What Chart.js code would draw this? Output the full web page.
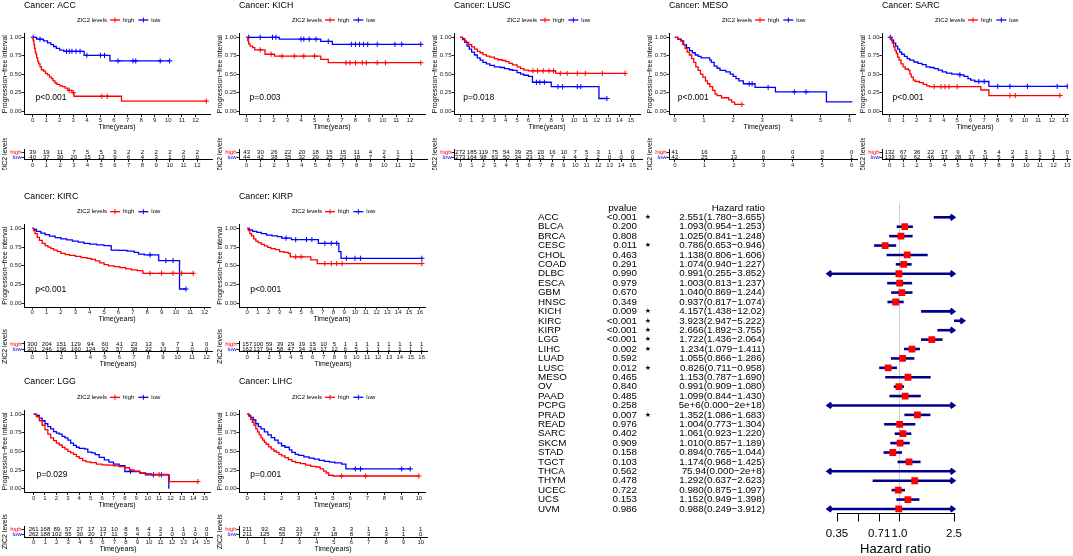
<!DOCTYPE html>
<html>
<head>
<meta charset="utf-8">
<script src="https://cdn.jsdelivr.net/npm/chart.js@4.4.0/dist/chart.umd.min.js"></script>
<style>
  body { margin: 0; background: #fff; width: 1073px; height: 556px; position: relative; overflow: hidden; }
  .box { position: absolute; overflow: hidden; }
</style>
</head>
<body>
<script>
// ---- Kaplan-Meier curves: [time, survival, censored?] ----
const accHigh = [[0,1],[0.05,0.95],[0.1,0.9],[0.15,0.85],[0.2,0.8],[0.25,0.77],[0.3,0.72],[0.38,0.67],[0.45,0.64],[0.55,0.6],[0.65,0.56],[0.8,0.54],[0.95,0.51],[1.1,0.49],[1.25,0.46],[1.4,0.44],[1.5,0.41],[1.65,0.38],[1.8,0.36],[2.0,0.34],[2.2,0.33],[2.4,0.31],[2.6,0.28],[2.7,0.28,1],[2.9,0.25],[3.0,0.25,1],[3.05,0.2],[5.1,0.2,1],[5.5,0.2,1],[6.55,0.135],[12.8,0.135,1]];
const accLow = [[0,1],[0.05,1,1],[0.3,0.975],[0.55,0.975,1],[0.8,0.95],[1.1,0.925],[1.35,0.9],[1.55,0.875],[1.75,0.85],[2.0,0.825],[2.3,0.81],[2.5,0.81,1],[2.7,0.81,1],[2.9,0.81,1],[3.2,0.81,1],[3.5,0.81,1],[3.8,0.755],[4.0,0.755,1],[5.0,0.755,1],[5.3,0.755,1],[5.7,0.68],[6.3,0.68,1],[7.4,0.68,1],[7.6,0.68,1],[9.4,0.68,1],[10.1,0.68,1]];
const kichHigh = [[0,1],[0.08,0.95],[0.15,0.91],[0.25,0.88],[0.45,0.86],[0.6,0.83],[1.0,0.83,1],[1.35,0.77],[1.8,0.77,1],[2.05,0.745],[2.6,0.745,1],[3.5,0.745,1],[4.2,0.745,1],[5.0,0.745,1],[5.45,0.7],[6.0,0.655],[7.3,0.655,1],[7.6,0.655,1],[8.0,0.655,1],[8.5,0.655,1],[8.8,0.655,1],[9.6,0.655,1],[10.2,0.655,1],[12.8,0.655,1]];
const kichLow = [[0,1],[0.15,1,1],[1.0,1,1],[1.9,1,1],[2.15,1,1],[2.4,0.975],[4.0,0.975,1],[4.2,0.975,1],[4.6,0.975,1],[5.1,0.975,1],[5.45,0.945],[6.0,0.945,1],[6.3,0.905],[7.7,0.905,1],[8.0,0.905,1],[8.3,0.905,1],[8.6,0.905,1],[8.9,0.905,1],[9.6,0.905,1],[10.9,0.905,1],[11.4,0.905,1],[12.8,0.905,1]];
const luscHigh = [[0,1],[0.2,0.98],[0.4,0.95],[0.55,0.93],[0.75,0.9],[1.0,0.87],[1.25,0.84],[1.5,0.81],[1.75,0.79],[2.0,0.765],[2.3,0.745],[2.6,0.73],[3.0,0.71],[3.3,0.695],[3.7,0.685],[4.0,0.67],[4.3,0.645],[4.6,0.625],[5.0,0.6],[5.3,0.575],[5.6,0.555],[6.0,0.545],[6.4,0.545,1],[6.8,0.545,1],[7.3,0.545,1],[7.8,0.545,1],[8.2,0.545,1],[8.4,0.51],[8.8,0.51,1],[9.4,0.51,1],[10.3,0.51,1],[11.0,0.51,1],[12.5,0.51,1],[14.5,0.51,1]];
const luscLow = [[0,1],[0.2,0.97],[0.4,0.93],[0.6,0.88],[0.8,0.84],[1.0,0.8],[1.25,0.76],[1.5,0.72],[1.75,0.69],[2.0,0.66],[2.3,0.64],[2.6,0.62],[3.0,0.6],[3.5,0.59],[3.9,0.575],[4.3,0.56],[4.6,0.55],[5.0,0.52],[5.3,0.5],[5.6,0.485],[6.0,0.47],[6.35,0.39],[6.7,0.39,1],[7.0,0.39,1],[7.4,0.39,1],[8.0,0.33],[8.6,0.33,1],[9.0,0.33,1],[10.3,0.33,1],[10.6,0.33,1],[12.2,0.17],[12.9,0.17,1]];
const mesoHigh = [[0,1],[0.1,0.975],[0.2,0.95],[0.27,0.9],[0.35,0.85],[0.42,0.8],[0.5,0.76],[0.58,0.71],[0.65,0.66],[0.72,0.6],[0.8,0.55],[0.88,0.5],[0.96,0.46],[1.05,0.41],[1.12,0.37],[1.2,0.33],[1.3,0.28],[1.38,0.23],[1.45,0.21],[1.6,0.18],[1.85,0.15],[1.95,0.12],[2.05,0.09],[2.3,0.09,1]];
const mesoLow = [[0,1],[0.1,0.975],[0.22,0.95],[0.3,0.9],[0.4,0.86],[0.5,0.82],[0.6,0.79],[0.7,0.76],[0.8,0.74],[0.9,0.72],[1.2,0.69],[1.25,0.66],[1.35,0.61],[1.45,0.58],[1.55,0.55],[1.75,0.53],[1.9,0.5],[2.0,0.47],[2.1,0.44],[2.2,0.41],[2.35,0.37],[2.55,0.37,1],[2.65,0.37,1],[2.75,0.32],[3.2,0.32,1],[3.45,0.26],[4.1,0.26,1],[4.5,0.26,1],[5.2,0.125],[6.09,0.125]];
const sarcHigh = [[0,1],[0.1,0.97],[0.2,0.92],[0.3,0.87],[0.4,0.82],[0.5,0.78],[0.6,0.73],[0.7,0.69],[0.85,0.64],[1.0,0.6],[1.15,0.57],[1.4,0.55],[1.5,0.5],[1.6,0.46],[1.75,0.42],[1.9,0.4],[2.2,0.385],[2.5,0.36],[2.75,0.34],[2.95,0.33],[3.3,0.33,1],[3.8,0.33,1],[4.1,0.33,1],[4.4,0.33,1],[5.0,0.33,1],[6.75,0.285],[7.35,0.21],[8.9,0.21,1],[9.3,0.21,1],[12.6,0.21,1]];
const sarcLow = [[0,1],[0.05,1,1],[0.15,0.96],[0.3,0.92],[0.45,0.88],[0.6,0.84],[0.75,0.8],[0.9,0.77],[1.1,0.74],[1.3,0.71],[1.5,0.69],[1.8,0.665],[2.1,0.645],[2.4,0.63],[2.7,0.6],[3.0,0.59],[3.3,0.575],[3.6,0.555],[3.9,0.53],[4.2,0.515],[4.6,0.5],[5.2,0.49,1],[5.5,0.47],[5.8,0.44],[6.0,0.42],[6.3,0.4],[6.6,0.4,1],[7.0,0.4,1],[7.35,0.335],[8.0,0.335,1],[8.9,0.335,1],[10.2,0.335,1],[12.4,0.335,1],[13.15,0.335,1]];
const kircHigh = [[0,1],[0.1,0.97],[0.2,0.93],[0.35,0.88],[0.5,0.84],[0.7,0.8],[0.9,0.77],[1.1,0.75],[1.3,0.73],[1.5,0.71],[1.75,0.69],[2.0,0.665],[2.3,0.65],[2.6,0.64],[3.0,0.625],[3.4,0.61],[3.8,0.6],[4.1,0.585],[4.4,0.565],[4.7,0.54],[5.0,0.515],[5.3,0.5],[5.7,0.49],[6.1,0.475],[6.5,0.46],[6.9,0.445],[7.3,0.435],[7.7,0.4],[8.2,0.4,1],[9.0,0.4,1],[9.8,0.4,1],[10.4,0.4,1],[11.2,0.4,1]];
const kircLow = [[0,1],[0.1,0.985],[0.3,0.96],[0.6,0.935],[0.9,0.915],[1.2,0.895],[1.6,0.875],[2.0,0.86],[2.4,0.845],[2.8,0.83],[3.2,0.815],[3.6,0.8],[4.0,0.79],[4.5,0.78],[5.0,0.77],[5.4,0.765],[5.5,0.71],[6.0,0.705],[6.6,0.695],[7.1,0.68],[7.4,0.655],[7.8,0.645],[8.2,0.645,1],[8.8,0.57],[9.3,0.57,1],[9.8,0.57,1],[10.25,0.19],[10.7,0.19,1]];
const kirpHigh = [[0,1],[0.1,0.97],[0.25,0.93],[0.4,0.9],[0.6,0.86],[0.8,0.83],[1.0,0.81],[1.3,0.785],[1.6,0.765],[1.9,0.745],[2.2,0.73],[2.6,0.715],[3.0,0.69],[3.4,0.68],[3.8,0.665],[4.0,0.62],[4.5,0.62,1],[5.0,0.62,1],[5.9,0.58],[6.5,0.53],[7.2,0.53,1],[7.8,0.53,1],[8.3,0.53,1],[8.8,0.53,1],[16.2,0.53,1]];
const kirpLow = [[0,1],[0.2,0.98],[0.5,0.96],[0.9,0.945],[1.3,0.93],[1.8,0.91],[2.3,0.9],[2.8,0.89],[3.2,0.87],[3.6,0.87,1],[4.1,0.85],[4.5,0.85,1],[5.5,0.85,1],[6.0,0.85,1],[6.6,0.8],[7.2,0.8,1],[7.8,0.8,1],[8.3,0.8,1],[8.5,0.69],[8.7,0.6],[9.2,0.6,1],[10.0,0.6,1],[10.5,0.6,1],[16.2,0.6,1]];
const lggHigh = [[0,1],[0.25,0.965],[0.5,0.91],[0.75,0.85],[1.0,0.79],[1.25,0.73],[1.5,0.68],[1.75,0.645],[2.0,0.61],[2.25,0.585],[2.5,0.555],[2.75,0.53],[3.0,0.5],[3.25,0.48],[3.5,0.46],[3.75,0.43],[4.0,0.405],[4.3,0.375],[4.6,0.36],[5.0,0.35],[5.5,0.33],[6.0,0.32],[6.5,0.315],[7.0,0.305],[7.5,0.295],[8.0,0.28],[8.4,0.25],[8.8,0.235],[9.3,0.21],[9.8,0.2],[10.3,0.19],[11.0,0.19,1],[11.7,0.185],[11.9,0.095],[14.4,0.095,1]];
const lggLow = [[0,1],[0.25,0.98],[0.5,0.945],[0.75,0.91],[1.0,0.87],[1.25,0.83],[1.5,0.8],[1.75,0.765],[2.0,0.745],[2.25,0.73],[2.5,0.7],[2.75,0.68],[3.0,0.65],[3.25,0.61],[3.5,0.58],[3.75,0.555],[4.0,0.54],[4.5,0.53],[4.75,0.49],[5.1,0.48],[5.4,0.455],[5.75,0.42],[6.2,0.385],[6.6,0.355],[7.0,0.33],[7.5,0.31],[8.0,0.23],[8.5,0.23,1],[9.3,0.21],[9.8,0.185],[10.5,0.185,1],[11.2,0.185,1],[11.85,0.0]];
const lihcHigh = [[0,1],[0.1,0.97],[0.2,0.93],[0.3,0.89],[0.4,0.85],[0.5,0.8],[0.6,0.76],[0.7,0.72],[0.8,0.68],[0.9,0.65],[1.0,0.62],[1.1,0.595],[1.25,0.56],[1.4,0.53],[1.55,0.505],[1.7,0.485],[1.85,0.46],[2.0,0.44],[2.2,0.415],[2.4,0.39],[2.6,0.365],[2.8,0.35],[3.1,0.335],[3.4,0.315],[3.7,0.3],[4.0,0.29],[4.25,0.265],[4.45,0.235],[4.6,0.21],[4.75,0.18],[5.0,0.17],[5.5,0.17,1],[6.9,0.17,1],[10.0,0.17,1]];
const lihcLow = [[0,1],[0.1,0.98],[0.2,0.955],[0.35,0.92],[0.5,0.87],[0.65,0.83],[0.8,0.8],[1.0,0.76],[1.2,0.72],[1.4,0.685],[1.6,0.65],[1.8,0.61],[2.0,0.575],[2.2,0.555],[2.45,0.52],[2.6,0.485],[2.8,0.46],[3.0,0.445],[3.3,0.425],[3.6,0.41],[3.9,0.395],[4.2,0.38],[4.5,0.365],[4.8,0.355],[5.1,0.345],[5.5,0.33],[5.75,0.265],[6.3,0.265,1],[6.6,0.265,1],[9.0,0.265,1],[9.5,0.265,1]];

// ---- numbers at risk ----
const accRiskHigh = [39,19,11,7,5,5,3,2,2,2,2,2,2];
const accRiskLow = [40,37,30,20,15,13,9,6,4,3,1,0,0];
const kichRiskHigh = [43,30,26,22,20,18,15,15,11,4,2,1,1];
const kichRiskLow = [44,42,38,35,32,29,25,23,18,7,4,2,1];
const luscRiskHigh = [272,185,119,75,54,39,25,20,16,10,7,5,3,1,1,0];
const luscRiskLow = [273,164,98,63,50,34,23,13,7,4,4,2,2,0,0,0];
const mesoRiskHigh = [41,16,3,0,0,0,0];
const mesoRiskLow = [42,25,13,6,4,2,1];
const sarcRiskHigh = [132,67,36,22,17,9,6,5,4,2,1,1,1,0];
const sarcRiskLow = [133,92,62,46,33,28,17,11,5,4,3,2,2,1];
const kircRiskHigh = [300,204,151,129,94,60,41,23,13,9,7,1,0];
const kircRiskLow = [301,246,196,160,124,92,57,38,22,13,3,0,0];
const kirpRiskHigh = [157,100,59,39,29,19,15,10,5,1,1,1,1,1,1,1,1];
const kirpRiskLow = [162,137,94,58,47,34,24,17,12,6,5,1,1,1,1,1,1];
const lggRiskHigh = [261,168,89,57,27,17,13,10,8,6,4,2,1,1,1,0];
const lggRiskLow = [262,188,102,55,30,20,17,11,5,4,3,2,0,0,0,0];
const lihcRiskHigh = [211,92,43,21,9,3,3,1,1,1,1];
const lihcRiskLow = [211,125,55,37,27,18,8,3,3,1,0];

// ---- forest plot ----
const cancers = ['ACC','BLCA','BRCA','CESC','CHOL','COAD','DLBC','ESCA','GBM','HNSC','KICH','KIRC','KIRP','LGG','LIHC','LUAD','LUSC','MESO','OV','PAAD','PCPG','PRAD','READ','SARC','SKCM','STAD','TGCT','THCA','THYM','UCEC','UCS','UVM'];
const pValues = [0.0001,0.200,0.808,0.011,0.463,0.291,0.990,0.979,0.670,0.349,0.009,0.0001,0.0001,0.0001,0.002,0.592,0.012,0.465,0.840,0.485,0.258,0.007,0.976,0.402,0.909,0.158,0.103,0.562,0.478,0.722,0.153,0.986];
const hr = [2.551,1.093,1.025,0.786,1.138,1.074,0.991,1.003,1.040,0.937,4.157,3.923,2.666,1.722,1.234,1.055,0.826,1.153,0.991,1.099,5e6,1.352,1.004,1.061,1.010,0.894,1.174,75.94,1.292,0.980,1.152,0.988];
const ciLow = [1.780,0.954,0.841,0.653,0.806,0.940,0.255,0.813,0.869,0.817,1.438,2.947,1.892,1.436,1.079,0.866,0.711,0.787,0.909,0.844,0,1.086,0.773,0.923,0.857,0.765,0.968,0,0.637,0.875,0.949,0.249];
const ciHigh = [3.655,1.253,1.248,0.946,1.606,1.227,3.852,1.237,1.244,1.074,12.02,5.222,3.755,2.064,1.411,1.286,0.958,1.690,1.080,1.430,2e18,1.683,1.304,1.220,1.189,1.044,1.425,2e8,2.623,1.097,1.398,3.912];
const hrTicks = [0.35, 0.5, 0.71, 1.0, 2.5];
const hrTickLabels = ['0.35', '', '0.71', '1.0', '2.5'];

const RED = '#FF0000', BLUE = '#0000FF', NAVY = '#00008B';
const FAM = '"Liberation Sans", Arial, Helvetica, sans-serif';
Chart.defaults.font.family = FAM;
Chart.defaults.animation = false;
Chart.defaults.events = [];
Chart.defaults.plugins.legend.display = false;
Chart.defaults.plugins.tooltip.enabled = false;

const rows = [
  {top: 0, chartTop: 33.6, chartBottom: 114.7, titleY: 6, legendY: 20,
   riskTop: 138, riskChartTop: 149.5, riskChartBottom: 159.5, riskClip: 32, riskTitle: false},
  {top: 185, chartTop: 224.6, chartBottom: 307, titleY: 197, legendY: 211.7,
   riskTop: 326, riskChartTop: 341.3, riskChartBottom: 351.7, riskClip: 0, riskTitle: true},
  {top: 375, chartTop: 410.3, chartBottom: 492.4, titleY: 382, legendY: 397.3,
   riskTop: 514, riskChartTop: 526.5, riskChartBottom: 537, riskClip: 0, riskTitle: true}
];

const panels = [
  {name: 'ACC', left: 0, row: 0, xMin: -0.63, xMax: 13.07, lastTick: 12, pval: 'p<0.001', high: accHigh, low: accLow, rHigh: accRiskHigh, rLow: accRiskLow},
  {name: 'KICH', left: 215, row: 0, xMin: -0.56, xMax: 13.11, lastTick: 12, pval: 'p=0.003', high: kichHigh, low: kichLow, rHigh: kichRiskHigh, rLow: kichRiskLow},
  {name: 'LUSC', left: 430, row: 0, xMin: -0.55, xMax: 15.81, lastTick: 15, pval: 'p=0.018', high: luscHigh, low: luscLow, rHigh: luscRiskHigh, rLow: luscRiskLow},
  {name: 'MESO', left: 645, row: 0, xMin: -0.2, xMax: 6.18, lastTick: 6, pval: 'p<0.001', high: mesoHigh, low: mesoLow, rHigh: mesoRiskHigh, rLow: mesoRiskLow},
  {name: 'SARC', left: 858, row: 0, xMin: -0.56, xMax: 13.2, lastTick: 13, pval: 'p<0.001', high: sarcHigh, low: sarcLow, rHigh: sarcRiskHigh, rLow: sarcRiskLow},
  {name: 'KIRC', left: 0, row: 1, xMin: -0.57, xMax: 12.37, lastTick: 12, pval: 'p<0.001', high: kircHigh, low: kircLow, rHigh: kircRiskHigh, rLow: kircRiskLow},
  {name: 'KIRP', left: 215, row: 1, xMin: -0.76, xMax: 16.49, lastTick: 16, pval: 'p<0.001', high: kirpHigh, low: kirpLow, rHigh: kirpRiskHigh, rLow: kirpRiskLow},
  {name: 'LGG', left: 0, row: 2, xMin: -0.84, xMax: 15.46, lastTick: 15, pval: 'p=0.029', high: lggHigh, low: lggLow, rHigh: lggRiskHigh, rLow: lggRiskLow},
  {name: 'LIHC', left: 215, row: 2, xMin: -0.48, xMax: 10.36, lastTick: 10, pval: 'p=0.001', high: lihcHigh, low: lihcLow, rHigh: lihcRiskHigh, rLow: lihcRiskLow}
];

function makeCanvas(left, top, w, h, clipH) {
  const box = document.createElement('div');
  box.className = 'box';
  box.style.left = left + 'px';
  box.style.top = top + 'px';
  box.style.width = w + 'px';
  box.style.height = (clipH || h) + 'px';
  const cv = document.createElement('canvas');
  cv.width = w; cv.height = h;
  cv.style.width = w + 'px'; cv.style.height = h + 'px';
  box.appendChild(cv);
  document.body.appendChild(box);
  return cv;
}

const intTicks = n => Array.from({length: n + 1}, (_, i) => ({value: i}));

function timeAxis(p, showTitle) {
  return {
    type: 'linear', min: p.xMin, max: p.xMax,
    afterBuildTicks: s => { s.ticks = intTicks(p.lastTick); },
    afterFit: s => { s.height = 17; },
    ticks: {font: {size: 6, lineHeight: 1}, color: '#222', padding: 0, maxRotation: 0, autoSkip: false, callback: v => String(v)},
    grid: {drawOnChartArea: false, tickLength: 2.5, color: '#222'},
    border: {color: '#000', width: 1},
    title: {display: showTitle, text: 'Time(years)', font: {size: 7, lineHeight: 1}, color: '#000', padding: {top: 0, bottom: 1}}
  };
}

function kmText(p, r) {
  return {
    id: 'kmText',
    afterDraw(chart) {
      const c = chart.ctx, ca = chart.chartArea, xs = chart.scales.x, ys = chart.scales.y;
      c.save();
      c.fillStyle = '#000';
      c.textBaseline = 'middle';
      c.textAlign = 'left';
      c.font = '8.8px ' + FAM;
      c.fillText('Cancer: ' + p.name, ca.left, r.titleY - r.top);
      // legend
      c.font = '6px ' + FAM;
      const ly = r.legendY - r.top;
      let lx = (ca.left + ca.right) / 2 - 40;
      c.fillText('ZIC2 levels', lx, ly);
      lx += c.measureText('ZIC2 levels').width + 3;
      [[RED, 'high'], [BLUE, 'low']].forEach(([col, lab]) => {
        c.strokeStyle = col;
        c.lineWidth = 1.3;
        c.beginPath(); c.moveTo(lx, ly); c.lineTo(lx + 10, ly); c.stroke();
        c.lineWidth = 1;
        c.beginPath(); c.moveTo(lx + 5, ly - 2.5); c.lineTo(lx + 5, ly + 2.5); c.stroke();
        lx += 13;
        c.fillText(lab, lx, ly);
        lx += c.measureText(lab).width + 4;
      });
      c.font = '8.5px ' + FAM;
      c.fillText(p.pval, xs.getPixelForValue(0) + 3, ys.getPixelForValue(0.185));
      c.restore();
    }
  };
}

function kmChart(p) {
  const r = rows[p.row];
  const h = Math.ceil(r.chartBottom + 17 - r.top);
  const cv = makeCanvas(p.left, r.top, 215, h);
  const curve = (d, col) => ({
    data: d.map(q => ({x: q[0], y: q[1], c: q[2] || 0})),
    borderColor: col, backgroundColor: col, borderWidth: 1.3, stepped: true, fill: false,
    pointStyle: 'cross', pointBorderColor: col, pointBorderWidth: 1,
    pointRadius: ctx => (ctx.raw && ctx.raw.c ? 2.6 : 0)
  });
  new Chart(cv, {
    type: 'line',
    data: {datasets: [curve(p.high, RED), curve(p.low, BLUE)]},
    options: {
      responsive: false,
      layout: {padding: {top: r.chartTop - r.top, right: 3, left: 0, bottom: h - (r.chartBottom - r.top) - 17}},
      scales: {
        x: timeAxis(p, true),
        y: {
          min: -0.05, max: 1.05,
          afterBuildTicks: s => { s.ticks = [0, 0.25, 0.5, 0.75, 1].map(v => ({value: v})); },
          afterFit: s => { s.width = 24; },
          ticks: {font: {size: 6, lineHeight: 1}, color: '#222', padding: 0, autoSkip: false, callback: v => v.toFixed(2)},
          grid: {drawOnChartArea: false, tickLength: 2.5, color: '#222'},
          border: {color: '#000', width: 1},
          title: {display: true, text: 'Progression\u2212free interval', font: {size: 7, lineHeight: 1}, color: '#000', padding: {top: 1.5, bottom: 0}}
        }
      }
    },
    plugins: [kmText(p, r)]
  });
}

function riskChart(p) {
  const r = rows[p.row];
  const h = Math.ceil(r.riskChartBottom + 17 - r.riskTop);
  const cv = makeCanvas(p.left, r.riskTop, 215, h, r.riskClip);
  new Chart(cv, {
    type: 'line',
    data: {datasets: []},
    options: {
      responsive: false,
      layout: {padding: {top: r.riskChartTop - r.riskTop, right: 3, left: 0, bottom: h - (r.riskChartBottom - r.riskTop) - 17}},
      scales: {
        x: timeAxis(p, r.riskTitle),
        y: {
          type: 'category', labels: ['high', 'low'], offset: true,
          afterFit: s => { s.width = 24; },
          ticks: {font: {size: 6, lineHeight: 1}, color: c => (c.index === 0 ? RED : BLUE), padding: 0, autoSkip: false},
          grid: {drawOnChartArea: false, tickLength: 2.5, color: '#222'},
          border: {color: '#000', width: 1},
          title: {display: true, text: 'ZIC2 levels', font: {size: 7, lineHeight: 1}, color: '#000', padding: {top: 1.5, bottom: 0}}
        }
      }
    },
    plugins: [{
      id: 'riskText',
      afterDraw(chart) {
        const c = chart.ctx, xs = chart.scales.x, ys = chart.scales.y;
        c.save();
        c.font = '6px ' + FAM;
        c.fillStyle = '#000';
        c.textAlign = 'center';
        c.textBaseline = 'middle';
        [p.rHigh, p.rLow].forEach((arr, k) => {
          arr.forEach((n, i) => c.fillText(String(n), xs.getPixelForValue(i), ys.getPixelForValue(k)));
        });
        c.restore();
      }
    }]
  });
}

panels.forEach(p => { kmChart(p); riskChart(p); });

// ---- forest plot ----
const CI_MIN = 0.3, CI_MAX = 2.5;
const fmt = v => (v >= 1e4 ? v.toExponential(0) : v >= 10 ? v.toPrecision(4) : v.toFixed(3));
const fmtP = v => (v < 0.001 ? '<0.001' : v.toFixed(3));

const forestPlugin = {
  id: 'forest',
  beforeDatasetsDraw(chart) {
    const c = chart.ctx, xs = chart.scales.x, ys = chart.scales.y, ca = chart.chartArea;
    c.save();
    const x1 = xs.getPixelForValue(1);
    c.strokeStyle = '#CCCCCC';
    c.lineWidth = 1;
    c.beginPath(); c.moveTo(x1, ca.top); c.lineTo(x1, ca.bottom); c.stroke();
    c.strokeStyle = NAVY;
    c.lineWidth = 2.6;
    cancers.forEach((n, i) => {
      const y = ys.getPixelForValue(i + 1);
      let a = Math.max(ciLow[i], CI_MIN), b = Math.min(ciHigh[i], CI_MAX);
      if (a > b) { const t = a; a = b; b = t; }
      const xa = xs.getPixelForValue(a), xb = xs.getPixelForValue(b);
      c.beginPath(); c.moveTo(xa, y); c.lineTo(xb, y); c.stroke();
      if (ciLow[i] < CI_MIN) {
        c.beginPath(); c.moveTo(xa + 3.5, y - 2.6); c.lineTo(xa, y); c.lineTo(xa + 3.5, y + 2.6); c.stroke();
      }
      if (ciHigh[i] > CI_MAX) {
        c.beginPath(); c.moveTo(xb - 3.5, y - 2.6); c.lineTo(xb, y); c.lineTo(xb - 3.5, y + 2.6); c.stroke();
      }
    });
    c.restore();
  },
  afterDraw(chart) {
    const c = chart.ctx, ys = chart.scales.y;
    c.save();
    c.fillStyle = '#000';
    c.textBaseline = 'middle';
    c.font = '9.8px ' + FAM;
    const yh = ys.getPixelForValue(0);
    c.textAlign = 'right';
    c.fillText('pvalue', 107, yh);
    c.fillText('Hazard ratio', 235, yh);
    cancers.forEach((n, i) => {
      const y = ys.getPixelForValue(i + 1);
      c.textAlign = 'left';
      c.fillText(n, 8, y);
      c.textAlign = 'right';
      c.fillText(fmtP(pValues[i]), 107, y);
      c.fillText(fmt(hr[i]) + '(' + fmt(ciLow[i]) + '\u2212' + fmt(ciHigh[i]) + ')', 235, y);
      if (pValues[i] < 0.05) {
        c.textAlign = 'center';
        c.font = '7px "DejaVu Sans", sans-serif';
        c.fillText('\u2605', 118, y);
        c.font = '9.8px ' + FAM;
      }
    });
    c.restore();
  }
};

const squares = [];
hr.forEach((v, i) => { if (v >= CI_MIN && v <= CI_MAX) squares.push({x: v, y: i + 1}); });

const fcv = makeCanvas(530, 195, 543, 361);
new Chart(fcv, {
  type: 'scatter',
  data: {datasets: [{data: squares, pointStyle: 'rect', pointRadius: 4.8, backgroundColor: RED, borderColor: RED, borderWidth: 0}]},
  options: {
    responsive: false,
    layout: {padding: {left: 307, right: 119, top: 8.2, bottom: 0}},
    scales: {
      x: {
        type: 'logarithmic', min: 0.35, max: 2.5,
        afterBuildTicks: s => { s.ticks = hrTicks.map(v => ({value: v})); },
        afterFit: s => { s.height = 43; },
        ticks: {font: {size: 11.5, lineHeight: 1}, color: '#000', padding: 6.5, autoSkip: false, maxRotation: 0, callback: (v, i) => hrTickLabels[i]},
        grid: {drawOnChartArea: false, tickLength: 8.5, color: '#000'},
        border: {color: '#000', width: 1},
        title: {display: true, text: 'Hazard ratio', font: {size: 13, lineHeight: 1}, color: '#000', padding: {top: 0, bottom: 0}}
      },
      y: {type: 'linear', reverse: true, min: -0.5, max: 32.43, display: false}
    }
  },
  plugins: [forestPlugin]
});
</script>
</body>
</html>
